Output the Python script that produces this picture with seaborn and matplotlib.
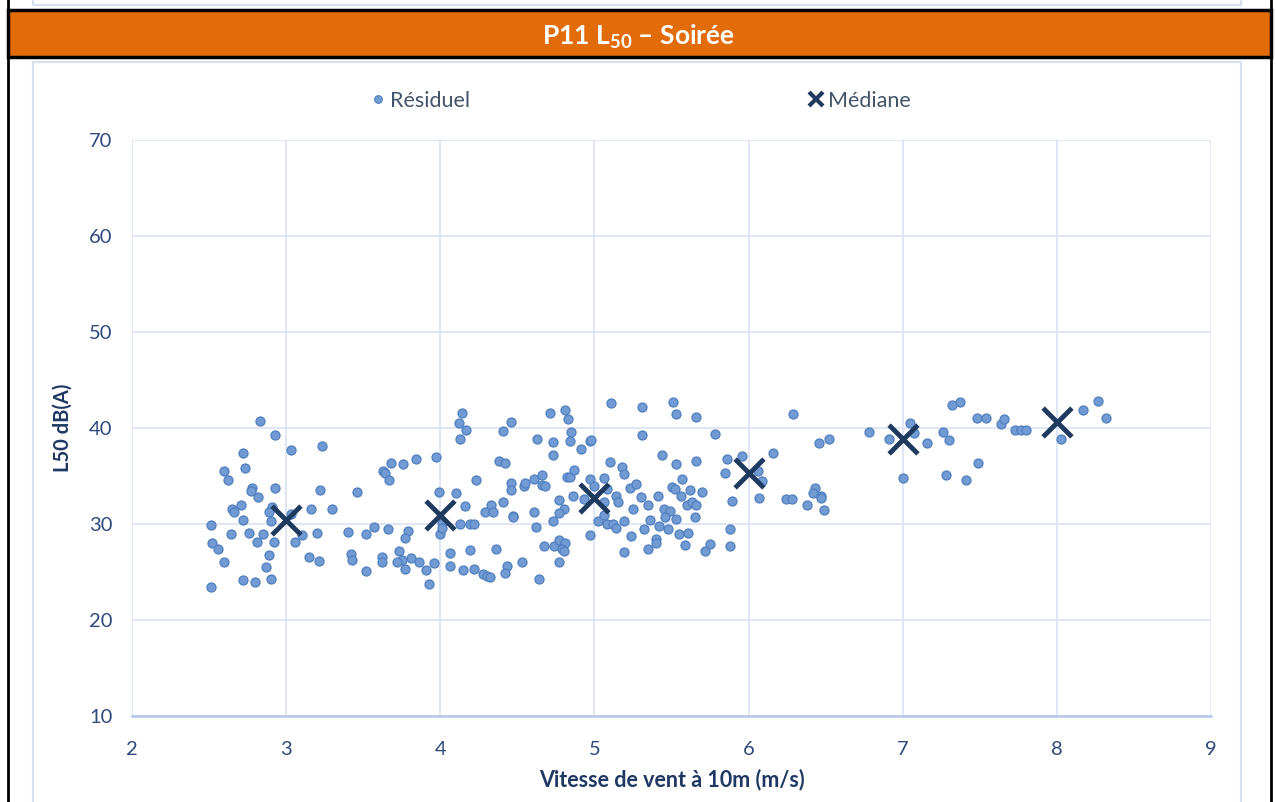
import matplotlib
matplotlib.use("Agg")
import matplotlib.pyplot as plt
from matplotlib.lines import Line2D
from matplotlib.patches import Rectangle
import seaborn as sns
import pandas as pd

# ---------------- data ----------------
wind = [
    2.83, 2.93, 3.03, 3.23, 2.72, 2.73, 2.60, 2.62, 3.68, 3.63, 3.64, 3.67, 2.78, 2.77, 2.93, 3.22,
    3.46, 2.82, 2.71, 2.65, 2.66, 2.91, 2.89, 2.90, 2.72, 3.03, 3.16, 3.30, 2.51, 2.64, 2.76, 2.85,
    3.10, 3.20, 3.40, 3.52, 3.57, 3.66, 2.52, 2.56, 2.81, 2.92, 3.06, 2.60, 2.89, 3.15, 3.21, 3.42,
    3.43, 3.52, 3.62, 3.62, 2.87, 2.72, 2.80, 2.90, 2.51,
    3.73, 3.75, 3.72, 3.77,
    4.14, 4.12, 4.17, 4.13, 4.71, 4.81, 4.83, 4.85, 4.84, 4.46, 4.41, 4.63, 4.73, 4.73, 4.91, 4.97,
    4.98, 3.76, 3.84, 3.97, 4.38, 4.42, 4.23, 3.99, 4.10, 4.46, 4.46, 4.54, 4.55, 4.61, 4.66, 4.66,
    4.68, 4.82, 4.84, 4.87, 4.97, 5.00, 4.86, 4.93, 4.16, 4.33, 4.29, 4.34, 4.41, 4.47, 4.47, 4.61,
    4.77, 4.80, 4.77, 4.73, 5.02, 4.97, 4.01, 4.00, 4.01, 4.13, 4.19, 4.22, 4.62, 3.79, 3.77, 4.67,
    4.74, 4.77, 4.81, 4.79, 4.80, 4.77, 4.06, 4.19, 4.36, 3.81, 3.86, 3.91, 3.96, 3.93, 4.06, 4.15,
    4.22, 4.28, 4.30, 4.32, 4.43, 4.42, 4.53, 4.64,
    5.11, 5.31, 5.51, 5.53, 5.66, 6.29, 5.31, 5.78, 5.44, 5.53, 5.66, 5.86, 5.96, 6.16, 5.10, 5.18,
    5.19, 5.85, 6.06, 6.09, 5.06, 5.08, 5.23, 5.27, 5.57, 5.50, 5.52, 5.56, 5.62, 5.70, 5.30, 5.41,
    5.14, 5.15, 5.06, 5.35, 5.25, 5.45, 5.49, 5.46, 5.60, 5.63, 5.66, 5.53, 5.65, 5.89, 5.06, 5.08,
    5.12, 5.14, 5.19, 5.32, 5.36, 5.42, 5.48, 5.24, 5.55, 5.61, 5.40, 5.40, 5.59, 5.75, 5.72, 5.19,
    5.35, 5.88, 5.88, 6.07, 6.24, 6.28,
    6.43, 6.42, 6.47, 6.47, 6.38, 6.49,
    6.46, 6.52, 6.78, 6.91, 7.05, 7.07, 7.00, 7.16, 7.26, 7.30, 7.32, 7.37, 7.28, 7.41, 7.49, 7.48,
    7.54, 7.64, 7.66, 7.73, 7.77, 7.80, 8.03, 8.17, 8.27, 8.32,
]
l50 = [
    40.7, 39.3, 37.7, 38.1, 37.4, 35.8, 35.5, 34.6, 36.4, 35.5, 35.3, 34.6, 33.7, 33.4, 33.8, 33.5,
    33.3, 32.8, 32.0, 31.6, 31.2, 31.8, 31.2, 30.3, 30.4, 31.0, 31.6, 31.6, 29.9, 29.0, 29.1, 29.0,
    28.9, 29.1, 29.2, 29.0, 29.7, 29.5, 28.0, 27.4, 28.1, 28.1, 28.1, 26.0, 26.8, 26.6, 26.1, 26.9,
    26.3, 25.1, 26.6, 26.0, 25.5, 24.2, 24.0, 24.3, 23.4,
    27.2, 26.2, 26.0, 25.35,
    41.6, 40.5, 39.8, 38.9, 41.6, 41.9, 40.9, 39.6, 38.6, 40.6, 39.7, 38.9, 38.5, 37.2, 37.8, 38.6,
    38.75, 36.3, 36.8, 36.95, 36.6, 36.4, 34.6, 33.3, 33.2, 34.3, 33.5, 34.0, 34.3, 34.7, 35.1, 34.1,
    34.0, 34.9, 34.9, 35.6, 34.7, 34.0, 32.9, 32.6, 31.9, 32.0, 31.2, 31.3, 32.3, 30.8, 30.7, 31.2,
    32.5, 31.6, 31.1, 30.3, 30.3, 28.9, 30.1, 29.0, 29.55, 29.95, 30.05, 30.05, 29.65, 29.3, 28.5, 27.7,
    27.7, 28.3, 28.05, 27.4, 27.2, 26.0, 27.0, 27.3, 27.4, 26.5, 26.0, 25.2, 25.9, 23.7, 25.6, 25.2,
    25.3, 24.8, 24.55, 24.5, 25.6, 24.9, 26.0, 24.3,
    42.6, 42.2, 42.7, 41.5, 41.1, 41.5, 39.3, 39.4, 37.2, 36.3, 36.6, 36.8, 37.1, 37.4, 36.5, 35.9,
    35.25, 35.3, 35.55, 34.5, 34.8, 33.6, 33.8, 34.2, 34.7, 33.9, 33.6, 32.95, 33.5, 33.3, 32.8, 32.9,
    32.9, 32.3, 32.3, 32.0, 31.6, 31.6, 31.35, 30.75, 32.0, 32.3, 32.0, 30.55, 30.7, 32.4, 30.9, 29.95,
    30.0, 29.55, 30.3, 29.5, 30.45, 29.8, 29.5, 28.75, 29.0, 29.1, 28.4, 28.0, 27.85, 27.95, 27.15, 27.05,
    27.4, 29.5, 27.7, 32.75, 32.6, 32.6,
    33.7, 33.25, 32.9, 32.7, 32.0, 31.5,
    38.4, 38.9, 39.6, 38.9, 40.5, 39.5, 34.8, 38.4, 39.6, 38.75, 42.4, 42.7, 35.1, 34.6, 36.4, 41.0,
    41.0, 40.4, 40.9, 39.8, 39.8, 39.8, 38.9, 41.9, 42.8, 41.0,
]
median_wind = [3, 4, 5, 6, 7, 8]
median_l50 = [30.4, 30.95, 32.7, 35.35, 38.9, 40.65]

x_ticks = [2, 3, 4, 5, 6, 7, 8, 9]
y_ticks = [10, 20, 30, 40, 50, 60, 70]

title_main = "P11 L"
title_sub = "50"
title_rest = " – Soirée"
legend_labels = ["Résiduel", "Médiane"]
x_label = "Vitesse de vent à 10m (m/s)"
y_label = "L50 dB(A)"

# ---------------- style ----------------
sns.set_theme(style="white")
plt.rcParams["font.family"] = ["Lato", "DejaVu Sans"]
plt.rcParams["mathtext.fontset"] = "custom"
plt.rcParams["mathtext.rm"] = "Lato"
plt.rcParams["mathtext.bf"] = "Lato:bold"

W, H = 1276, 802
fig = plt.figure(figsize=(W / 100, H / 100), dpi=100)
fig.patch.set_facecolor("white")

def fx(px):
    return px / W

def fy(py):
    return 1 - py / H

# decorative frames
frame_col = "#D6E0F0"
fig.add_artist(Rectangle((fx(33), fy(5)), fx(1241) - fx(33), fy(0) - fy(5) + 0.01,
                         transform=fig.transFigure, facecolor="none", edgecolor=frame_col, lw=1.5))
fig.add_artist(Rectangle((fx(33), fy(810)), fx(1241) - fx(33), fy(62) - fy(810),
                         transform=fig.transFigure, facecolor="none", edgecolor=frame_col, lw=1.5))
fig.add_artist(Rectangle((fx(8), fy(57)), fx(1271) - fx(8), fy(10) - fy(57),
                         transform=fig.transFigure, facecolor="#E36C0A", edgecolor="black", lw=2.5))
fig.add_artist(Line2D([fx(8), fx(8)], [0, 1], transform=fig.transFigure, color="black", lw=2))
fig.add_artist(Line2D([fx(1271), fx(1271)], [0, 1], transform=fig.transFigure, color="black", lw=2))

fig.text(0.5, fy(37), title_main + r"$_{\mathregular{" + title_sub + r"}}$" + title_rest,
         ha="center", va="center", color="white", fontsize=19, fontweight="bold")

# ---------------- axes ----------------
ax = fig.add_axes([fx(132), fy(716), fx(1211) - fx(132), fy(140) - fy(716)])
df_res = pd.DataFrame({"wind": wind, "l50": l50})
df_med = pd.DataFrame({"wind": median_wind, "l50": median_l50})

sns.scatterplot(data=df_res, x="wind", y="l50", ax=ax, s=42, color="#729BD3",
                edgecolor="#4F7FBF", linewidth=0.9, zorder=3, legend=False)
sns.scatterplot(data=df_med, x="wind", y="l50", ax=ax, marker="x", s=430,
                color="#1F3A5F", linewidth=3.5, zorder=4, legend=False)

ax.set_xlim(2, 9)
ax.set_ylim(10, 70)
ax.set_xticks(x_ticks)
ax.set_yticks(y_ticks)
ax.grid(True, color="#D9E2F3", lw=1.2)
ax.set_axisbelow(True)
for s in ["top", "right", "left"]:
    ax.spines[s].set_visible(False)
ax.spines["bottom"].set_color("#B4C7E7")
ax.spines["bottom"].set_linewidth(1.8)
tick_col = "#2E4A7D"
ax.tick_params(axis="x", length=0, pad=18, labelsize=14.5, labelcolor=tick_col)
ax.tick_params(axis="y", length=0, pad=14, labelsize=14.5, labelcolor=tick_col)

ax.set_xlabel(x_label, fontsize=15.5, fontweight="bold", color="#1F3864", labelpad=8)
ax.set_ylabel(y_label, fontsize=14.5, fontweight="bold", color="#1F3864", labelpad=12)

handles = [
    Line2D([], [], marker="o", linestyle="none", markersize=5.5, markerfacecolor="#729BD3",
           markeredgecolor="#4F7FBF", markeredgewidth=0.8),
    Line2D([], [], marker="x", linestyle="none", markersize=10, markeredgecolor="#1F3A5F",
           markeredgewidth=3),
]
leg = fig.legend(handles, legend_labels, loc="center", bbox_to_anchor=(fx(641), fy(101)),
                 ncol=2, frameon=False, fontsize=15.5, handlelength=0.6, handletextpad=0.25,
                 columnspacing=15.8)
for t in leg.get_texts():
    t.set_color("#44546A")

fig.savefig("out.png", dpi=100)
